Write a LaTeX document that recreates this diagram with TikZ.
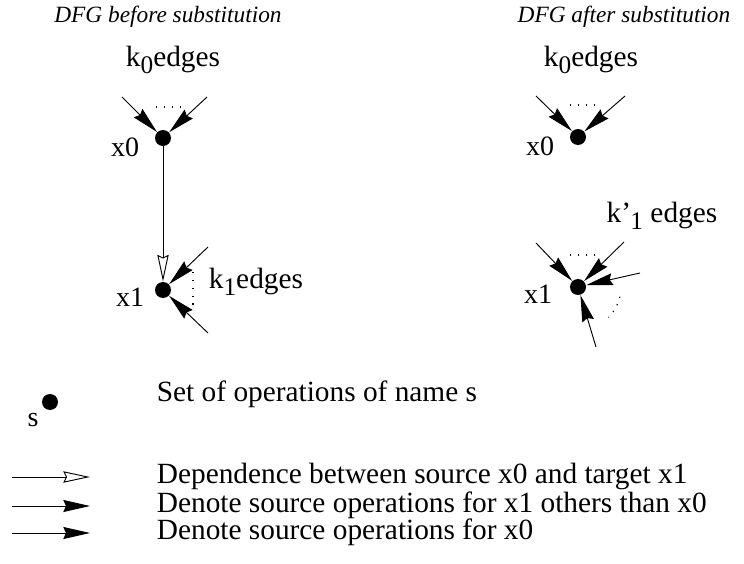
\documentclass[tikz,border=0pt]{standalone}
\usepackage{fontspec}
\setmainfont{Liberation Serif}
\usetikzlibrary{arrows.meta}

% subscripted edge counts
\newcommand{\kcount}[1]{k\raisebox{-0.55ex}{\fontsize{19}{19}\selectfont #1}}
\newcommand{\kpcount}[1]{k'\kern-0.5pt\raisebox{-0.55ex}{\fontsize{19}{19}\selectfont #1}}

\tikzset{
  opnode/.style={circle, fill=black, inner sep=0pt, minimum size=12pt},
  srcedge/.style={-{Stealth[length=20pt, width=9pt, inset=2pt]}},
  depedge/.style={-{Stealth[open, length=20pt, width=8.5pt, inset=2pt]}},
  dotline/.style={line width=0.9pt, dash pattern=on 0.9pt off 5pt},
  ttl/.style={font=\fontsize{17.5}{20}\selectfont\itshape},
  lbl/.style={font=\fontsize{21}{24}\selectfont},
}

\begin{document}
\begin{tikzpicture}[x=0.75pt, y=-0.75pt, line width=0.7pt,
    font=\fontsize{22}{26}\selectfont]
  \useasboundingbox (0,0) rectangle (744,564);

  % Titles
  \node[ttl] (ttlL) at (168,17) {DFG before substitution};
  \node[ttl] (ttlR) at (624,17) {DFG after substitution};

  % DFG before substitution
  \node[opnode] (x0L) at (163,138) {};
  \node[opnode] (x1L) at (163,290) {};
  \node[lbl, anchor=east] (lx0L) at (144,147) {x0};
  \node[lbl, anchor=east] (lx1L) at (149,297) {x1};
  \node (k0L) at (173,60) {\kcount{0}edges};
  \node[anchor=west] (k1L) at (204,282) {\kcount{1}edges};

  \coordinate (a0L) at (122,97);
  \coordinate (b0L) at (207,97);
  \coordinate (a1L) at (208,247);
  \coordinate (b1L) at (208,333);
  \draw[srcedge] (a0L) -- (x0L);
  \draw[srcedge] (b0L) -- (x0L);
  \draw[dotline] (156,107) -- (182,107);
  \draw[depedge] (x0L) -- (x1L);
  \draw[srcedge] (a1L) -- (x1L);
  \draw[srcedge] (b1L) -- (x1L);
  \draw[dotline] (193,272) -- (193,306);

  % DFG after substitution
  \node[opnode] (x0R) at (578,137) {};
  \node[opnode] (x1R) at (578,287) {};
  \node[lbl, anchor=east] (lx0R) at (559,146) {x0};
  \node[lbl, anchor=east] (lx1R) at (557,294) {x1};
  \node (k0R) at (591,60) {\kcount{0}edges};
  \node (k1R) at (662,216) {\kpcount{1} edges};

  \coordinate (a0R) at (536,96);
  \coordinate (b0R) at (625,96);
  \coordinate (a1R) at (536,243);
  \coordinate (b1R) at (624,242);
  \coordinate (c1R) at (640,273);
  \coordinate (d1R) at (596,347);
  \draw[srcedge] (a0R) -- (x0R);
  \draw[srcedge] (b0R) -- (x0R);
  \draw[dotline] (570,105) -- (596,105);
  \draw[srcedge] (a1R) -- (x1R);
  \draw[srcedge] (b1R) -- (x1R);
  \draw[srcedge] (c1R) -- (x1R);
  \draw[srcedge] (d1R) -- (x1R);
  \draw[dotline] (570,255) -- (596,255);
  \draw[dotline] (x1R.center) ++(13:43) arc[start angle=13, end angle=45, radius=43];

  % Legend
  \node[opnode] (sL) at (50,402) {};
  \node[lbl] (sname) at (33,420) {s};
  \node[anchor=base west] (txS) at (152,401) {Set of operations of name s};

  \coordinate (p1) at (12,477);  \coordinate (q1) at (90,477);
  \coordinate (p2) at (12,506);  \coordinate (q2) at (90,506);
  \coordinate (p3) at (12,533);  \coordinate (q3) at (90,533);
  \draw[depedge] (p1) -- (q1);
  \draw[srcedge] (p2) -- (q2);
  \draw[srcedge] (p3) -- (q3);
  \node[anchor=base west] (tx1) at (152,483) {Dependence between source x0 and target x1};
  \node[anchor=base west] (tx2) at (152,512) {Denote source operations for x1 others than x0};
  \node[anchor=base west] (tx3) at (152,539) {Denote source operations for x0};
\end{tikzpicture}
\end{document}
